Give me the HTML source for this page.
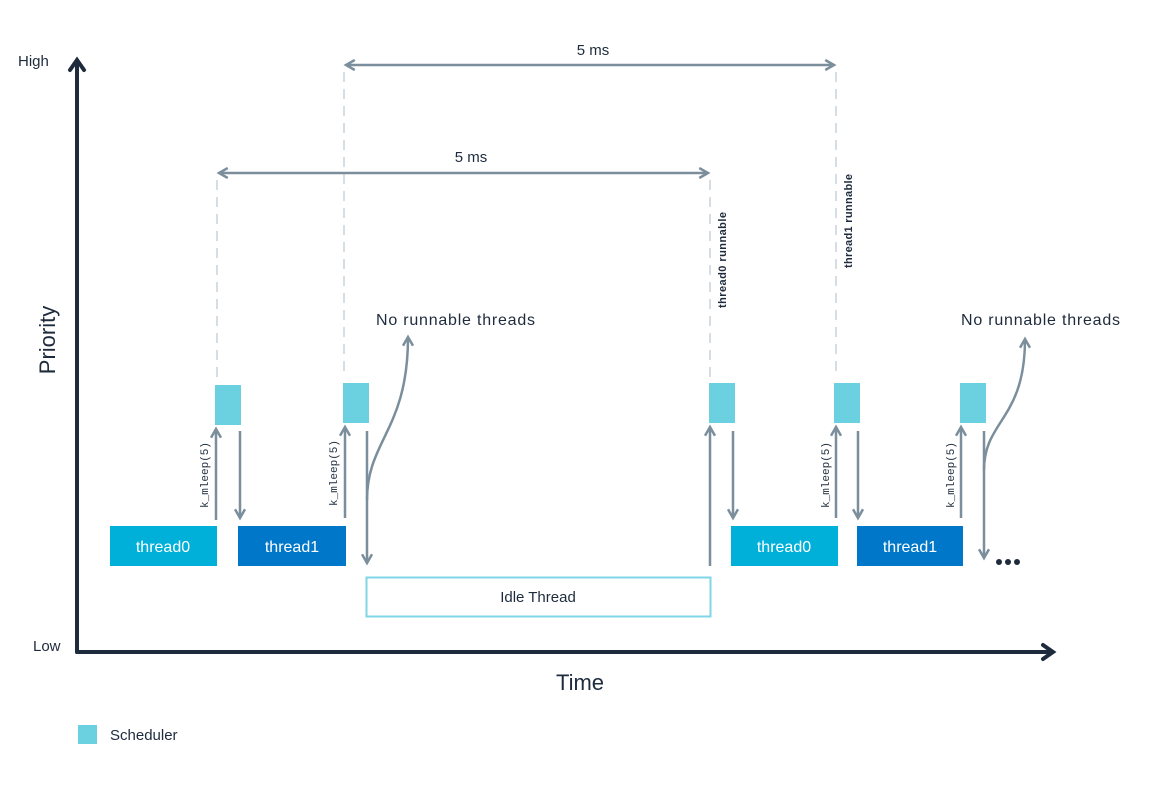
<!DOCTYPE html>
<html><head><meta charset="utf-8"><style>
html,body{margin:0;padding:0;background:#fff;}
svg{display:block;font-family:"Liberation Sans",sans-serif;}
</style></head><body>
<svg width="1149" height="788" viewBox="0 0 1149 788" xmlns="http://www.w3.org/2000/svg">
<defs>
<marker id="ah" viewBox="0 0 10 10" refX="8" refY="5" markerWidth="5" markerHeight="5" orient="auto-start-reverse">
<path d="M1,1 L8,5 L1,9" fill="none" stroke="#7b8e9b" stroke-width="2"/>
</marker>
</defs>
<g stroke="#d6dee3" stroke-width="2" stroke-dasharray="10,7">
<line x1="217" y1="180" x2="217" y2="380"/>
<line x1="344" y1="72" x2="344" y2="378"/>
<line x1="710" y1="180" x2="710" y2="378"/>
<line x1="836" y1="72" x2="836" y2="378"/>
</g>
<g stroke="#7b8e9b" stroke-width="2.5" fill="none">
<line x1="346" y1="65" x2="834" y2="65" marker-start="url(#ah)" marker-end="url(#ah)"/>
<line x1="219" y1="173" x2="708" y2="173" marker-start="url(#ah)" marker-end="url(#ah)"/>
</g>
<text x="593" y="55" font-size="15" fill="#1e2b3c" text-anchor="middle">5 ms</text>
<text x="471" y="162" font-size="15" fill="#1e2b3c" text-anchor="middle">5 ms</text>
<g stroke="#1e2b3c" stroke-width="4" fill="none" stroke-linecap="round">
<line x1="77" y1="62" x2="77" y2="652"/>
<line x1="77" y1="652" x2="1051" y2="652"/>
<path d="M70,70 L77,60 L84,70"/>
<path d="M1043,645 L1053,652 L1043,659"/>
</g>
<text x="18" y="66" font-size="15" fill="#1e2b3c">High</text>
<text x="33" y="651" font-size="15" fill="#1e2b3c">Low</text>
<text x="0" y="0" font-size="22" fill="#1e2b3c" text-anchor="middle" transform="translate(55,340) rotate(-90)">Priority</text>
<text x="580" y="690" font-size="22" fill="#1e2b3c" text-anchor="middle">Time</text>
<g fill="#6bd1e0">
<rect x="215" y="385" width="26" height="40"/>
<rect x="343" y="383" width="26" height="40"/>
<rect x="709" y="383" width="26" height="40"/>
<rect x="834" y="383" width="26" height="40"/>
<rect x="960" y="383" width="26" height="40"/>
</g>
<rect x="110" y="526" width="107" height="40" fill="#00b0d8"/>
<rect x="238" y="526" width="108" height="40" fill="#0077c8"/>
<rect x="731" y="526" width="107" height="40" fill="#00b0d8"/>
<rect x="857" y="526" width="106" height="40" fill="#0077c8"/>
<rect x="366.5" y="577.5" width="344" height="39" fill="#fff" stroke="#7fd6e6" stroke-width="2"/>
<g font-size="16" fill="#fff" text-anchor="middle">
<text x="163" y="552">thread0</text>
<text x="292" y="552">thread1</text>
<text x="784" y="552">thread0</text>
<text x="910" y="552">thread1</text>
</g>
<text x="538" y="602" font-size="15" fill="#1e2b3c" text-anchor="middle">Idle Thread</text>
<g stroke="#7b8e9b" stroke-width="2.5" fill="none">
<line x1="216" y1="520" x2="216" y2="429" marker-end="url(#ah)"/>
<line x1="240" y1="431" x2="240" y2="518" marker-end="url(#ah)"/>
<line x1="345" y1="518" x2="345" y2="427" marker-end="url(#ah)"/>
<line x1="367" y1="431" x2="367" y2="563" marker-end="url(#ah)"/>
<line x1="710" y1="566" x2="710" y2="427" marker-end="url(#ah)"/>
<line x1="733" y1="431" x2="733" y2="518" marker-end="url(#ah)"/>
<line x1="836" y1="518" x2="836" y2="427" marker-end="url(#ah)"/>
<line x1="858" y1="431" x2="858" y2="518" marker-end="url(#ah)"/>
<line x1="961" y1="518" x2="961" y2="427" marker-end="url(#ah)"/>
<line x1="984" y1="431" x2="984" y2="558" marker-end="url(#ah)"/>
<path d="M367,500 C367,440 408,430 408,337" marker-end="url(#ah)"/>
<path d="M984,470 C984,420 1025,420 1025,339" marker-end="url(#ah)"/>
</g>
<text x="376" y="325" font-size="16" fill="#1e2b3c" textLength="159">No runnable threads</text>
<text x="961" y="325" font-size="16" fill="#1e2b3c" textLength="159">No runnable threads</text>
<g font-family="Liberation Mono, monospace" font-size="11" fill="#1e2b3c">
<text transform="translate(208,508) rotate(-90)">k_mleep(5)</text>
<text transform="translate(337,506) rotate(-90)">k_mleep(5)</text>
<text transform="translate(829,508) rotate(-90)">k_mleep(5)</text>
<text transform="translate(954,508) rotate(-90)">k_mleep(5)</text>
</g>
<g font-size="11" fill="#1e2b3c" font-weight="bold">
<text transform="translate(726,308) rotate(-90)" textLength="96">thread0 runnable</text>
<text transform="translate(852,268) rotate(-90)" textLength="94">thread1 runnable</text>
</g>
<g fill="#1e2b3c">
<circle cx="999" cy="562" r="3"/>
<circle cx="1008" cy="562" r="3"/>
<circle cx="1017" cy="562" r="3"/>
</g>
<rect x="78" y="725" width="19" height="19" fill="#6bd1e0"/>
<text x="110" y="740" font-size="15" fill="#1e2b3c">Scheduler</text>
</svg>
</body></html>
